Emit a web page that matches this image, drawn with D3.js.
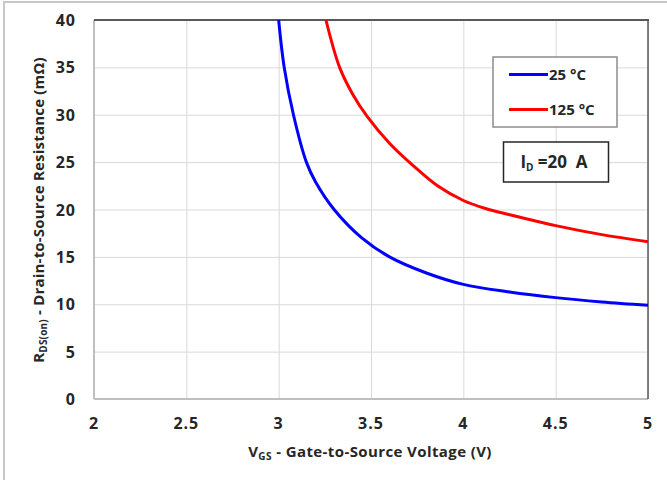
<!DOCTYPE html>
<html>
<head>
<meta charset="utf-8">
<script src="https://cdn.jsdelivr.net/npm/d3@7"></script>
<style>
  body { margin: 0; background: #fff; }
  text { font-family: "Open Sans", sans-serif; font-weight: bold; fill: #262626; }
</style>
</head>
<body>
<svg width="667" height="480"></svg>
<script>
// données (VGS en V, RDS(on) en mΩ)
const vgs25 = [3.0, 3.03, 3.08, 3.15, 3.2, 3.3, 3.45, 3.6, 3.8, 4.0, 4.25, 4.5, 4.75, 5.0];
const rds25 = [40, 35, 30, 25, 22.9, 20, 17.0, 15.0, 13.3, 12.1, 11.3, 10.7, 10.25, 9.9];
const vgs125 = [3.256, 3.33, 3.40, 3.48, 3.6, 3.73, 3.86, 4.0, 4.12, 4.25, 4.5, 4.75, 5.0];
const rds125 = [40, 35, 32.2, 29.8, 27.0, 24.6, 22.5, 20.95, 20.1, 19.45, 18.3, 17.35, 16.6];
const xTicks = [2, 2.5, 3, 3.5, 4, 4.5, 5];
const yTicks = [0, 5, 10, 15, 20, 25, 30, 35, 40];
const seriesNames = ["25 °C", "125 °C"];
const seriesColors = ["#0000ff", "#ff0000"];

const series = [
    { name: seriesNames[0], color: seriesColors[0], pts: vgs25.map((v, i) => [v, rds25[i]]) },
    { name: seriesNames[1], color: seriesColors[1], pts: vgs125.map((v, i) => [v, rds125[i]]) }
];

const svg = d3.select("svg");

// cadre extérieur (gauche + haut seulement visibles)
svg.append("path")
    .attr("d", "M4,480 V2 H667")
    .attr("fill", "none")
    .attr("stroke", "#c8c8c8")
    .attr("stroke-width", 2);

const x = d3.scaleLinear().domain([2, 5]).range([94, 648]);
const y = d3.scaleLinear().domain([0, 40]).range([399, 20]);

// grille
svg.append("g")
    .attr("transform", "translate(0,399)")
    .call(d3.axisBottom(x).tickValues(xTicks).tickSize(-(399 - 20)).tickFormat(""))
    .call(g => g.select(".domain").remove())
    .call(g => g.selectAll("line").attr("stroke", "#d9d9d9"));

svg.append("g")
    .attr("transform", "translate(94,0)")
    .call(d3.axisLeft(y).tickValues(yTicks).tickSize(-(648 - 94)).tickFormat(""))
    .call(g => g.select(".domain").remove())
    .call(g => g.selectAll("line").attr("stroke", "#d9d9d9"));

// bords de la zone de tracé
svg.append("line").attr("x1", 94).attr("x2", 94).attr("y1", 20).attr("y2", 399)
    .attr("stroke", "#bfbfbf").attr("stroke-width", 2);
svg.append("line").attr("x1", 94).attr("x2", 648).attr("y1", 399).attr("y2", 399)
    .attr("stroke", "#bfbfbf").attr("stroke-width", 2);
svg.append("line").attr("x1", 94).attr("x2", 649).attr("y1", 20).attr("y2", 20)
    .attr("stroke", "#595959").attr("stroke-width", 2);
svg.append("line").attr("x1", 648).attr("x2", 648).attr("y1", 20).attr("y2", 399)
    .attr("stroke", "#595959").attr("stroke-width", 1.5);

// étiquettes des graduations
svg.selectAll("text.xt")
    .data(xTicks)
    .join("text")
    .attr("class", "xt")
    .attr("x", d => x(d))
    .attr("y", 429)
    .attr("text-anchor", "middle")
    .attr("font-size", "16px")
    .attr("letter-spacing", "1px")
    .text(d => d);

svg.selectAll("text.yt")
    .data(yTicks)
    .join("text")
    .attr("class", "yt")
    .attr("x", 76)
    .attr("y", d => y(d) + 6)
    .attr("text-anchor", "end")
    .attr("font-size", "16px")
    .attr("letter-spacing", "1px")
    .text(d => d);

// courbes
const line = d3.line()
    .x(d => x(d[0]))
    .y(d => y(d[1]))
    .curve(d3.curveCatmullRom.alpha(0.5));

svg.selectAll("path.serie")
    .data(series)
    .join("path")
    .attr("class", "serie")
    .attr("d", d => line(d.pts))
    .attr("fill", "none")
    .attr("stroke", d => d.color)
    .attr("stroke-width", 3);

// titres des axes
const xt = svg.append("text")
    .attr("x", 370)
    .attr("y", 457)
    .attr("text-anchor", "middle")
    .attr("font-size", "15px")
    .attr("letter-spacing", "0.4px");
xt.append("tspan").text("V");
xt.append("tspan").attr("font-size", "10px").attr("dy", 3).text("GS");
xt.append("tspan").attr("dy", -3).text(" - Gate-to-Source Voltage (V)");

const yt = svg.append("text")
    .attr("transform", "translate(44,210) rotate(-90)")
    .attr("text-anchor", "middle")
    .attr("font-size", "15px")
    .attr("letter-spacing", "0.2px");
yt.append("tspan").text("R");
yt.append("tspan").attr("font-size", "10px").attr("dy", 3).text("DS(on)");
yt.append("tspan").attr("dy", -3).text(" - Drain-to-Source Resistance (mΩ)");

// légende
const leg = svg.append("g");
leg.append("rect")
    .attr("x", 493).attr("y", 57).attr("width", 124).attr("height", 70)
    .attr("fill", "#fff").attr("stroke", "#8c8c8c").attr("stroke-width", 1.5);
const items = leg.selectAll("g.item")
    .data(series)
    .join("g")
    .attr("class", "item")
    .attr("transform", (d, i) => `translate(0,${74.5 + i * 35})`);
items.append("line")
    .attr("x1", 509).attr("x2", 548)
    .attr("stroke", d => d.color).attr("stroke-width", 3);
items.append("text")
    .attr("x", 549).attr("y", 5.5)
    .attr("font-size", "15px")
    .text(d => d.name);

// encadré ID
svg.append("rect")
    .attr("x", 503.5).attr("y", 142).attr("width", 105).attr("height", 40)
    .attr("fill", "#fff").attr("stroke", "#262626").attr("stroke-width", 1.5);
const id = svg.append("text")
    .attr("x", 554)
    .attr("y", 168)
    .attr("text-anchor", "middle")
    .attr("font-size", "17px");
id.append("tspan").text("I");
id.append("tspan").attr("font-size", "10px").attr("dy", 3).text("D");
id.append("tspan").attr("dy", -3).text(" =20\u00a0\u00a0A");
</script>
</body>
</html>
